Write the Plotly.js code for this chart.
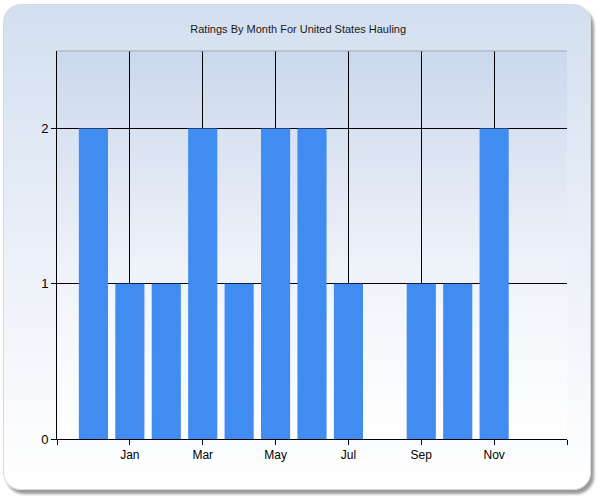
<!DOCTYPE html>
<html>
<head>
<meta charset="utf-8">
<script src="https://cdn.plot.ly/plotly-3.0.1.min.js"></script>
<style>
    html, body { margin: 0; padding: 0; background: #ffffff; }
    #wrap { position: relative; width: 600px; height: 500px; overflow: hidden; }
    #frame {
        position: absolute; left: 3px; top: 4px; width: 586px; height: 484px;
        border-radius: 18px;
        border: 1px solid #d6d9de;
        background: linear-gradient(to bottom, #d3dff0 0%, #eaf0f8 50%, #ffffff 100%);
        box-shadow: 3px 4px 3px #9a9a9a;
    }
    #plotbg {
        position: absolute; left: 57px; top: 51px; width: 510px; height: 388px;
        background: linear-gradient(to bottom, #cbd8ec 0%, #eef2f9 55%, #ffffff 100%);
    }
    #chart { position: absolute; left: 0; top: 0; width: 600px; height: 500px; }
</style>
</head>
<body>
<div id="wrap">
    <div id="frame"></div>
    <div id="plotbg"></div>
    <div id="chart"></div>
</div>
<script>
// months shown on the axis, starting with December of the previous year
var months = ["Dec", "Jan", "Feb", "Mar", "Apr", "May", "Jun", "Jul", "Aug", "Sep", "Oct", "Nov"];
var ratings = [2, 1, 1, 2, 1, 2, 2, 1, 0, 1, 1, 2];

// axis ticks every other month, with an empty tick at each end
var tickMonths = ["", "Jan", "Mar", "May", "Jul", "Sep", "Nov", ""];
var tickPos = [-1, 1, 3, 5, 7, 9, 11, 13];
var yTicks = [0, 1, 2];

var trace1 = {
    x: months.map(function (m, i) { return i; }),
    y: ratings,
    hovertext: months,
    type: 'bar',
    marker: { color: '#418cf0', line: { width: 0 } },
    hoverinfo: 'text+y'
};

var layout = {
    width: 600,
    height: 500,
    paper_bgcolor: "rgba(0,0,0,0)",
    plot_bgcolor: "rgba(0,0,0,0)",
    showlegend: false,
    bargap: 0.2,
    margin: { l: 57, r: 33, t: 51, b: 61, pad: 0 },
    font: { family: "Liberation Sans, Arial, sans-serif", size: 12, color: "#000000" },
    title: {
        text: "Ratings By Month For United States Hauling",
        font: { family: "Liberation Sans, Arial, sans-serif", size: 11, color: "#1a1a1a" },
        x: 0.497,
        xanchor: 'center',
        y: 0.942,
        yanchor: 'middle'
    },
    xaxis: {
        range: [-1, 13],
        tickmode: 'array',
        tickvals: tickPos,
        ticktext: tickMonths,
        showgrid: true,
        gridcolor: '#000000',
        gridwidth: 1,
        zeroline: false,
        showline: true,
        linecolor: '#000000',
        linewidth: 1,
        ticks: 'outside',
        ticklen: 5,
        tickcolor: '#000000',
        tickfont: { size: 12 },
        fixedrange: true
    },
    yaxis: {
        range: [0, 2.5],
        tickmode: 'array',
        tickvals: yTicks,
        showgrid: true,
        gridcolor: '#000000',
        gridwidth: 1,
        zeroline: false,
        showline: true,
        linecolor: '#000000',
        linewidth: 1,
        ticks: 'outside',
        ticklen: 5,
        tickcolor: '#000000',
        tickfont: { size: 13 },
        fixedrange: true
    },
    shapes: [
        {
            type: 'line', xref: 'paper', yref: 'paper',
            x0: 0, x1: 1, y0: 1, y1: 1,
            line: { color: '#9daabd', width: 1 }
        }
    ]
};

Plotly.newPlot('chart', [trace1], layout, { displayModeBar: false, staticPlot: true });
</script>
</body>
</html>
